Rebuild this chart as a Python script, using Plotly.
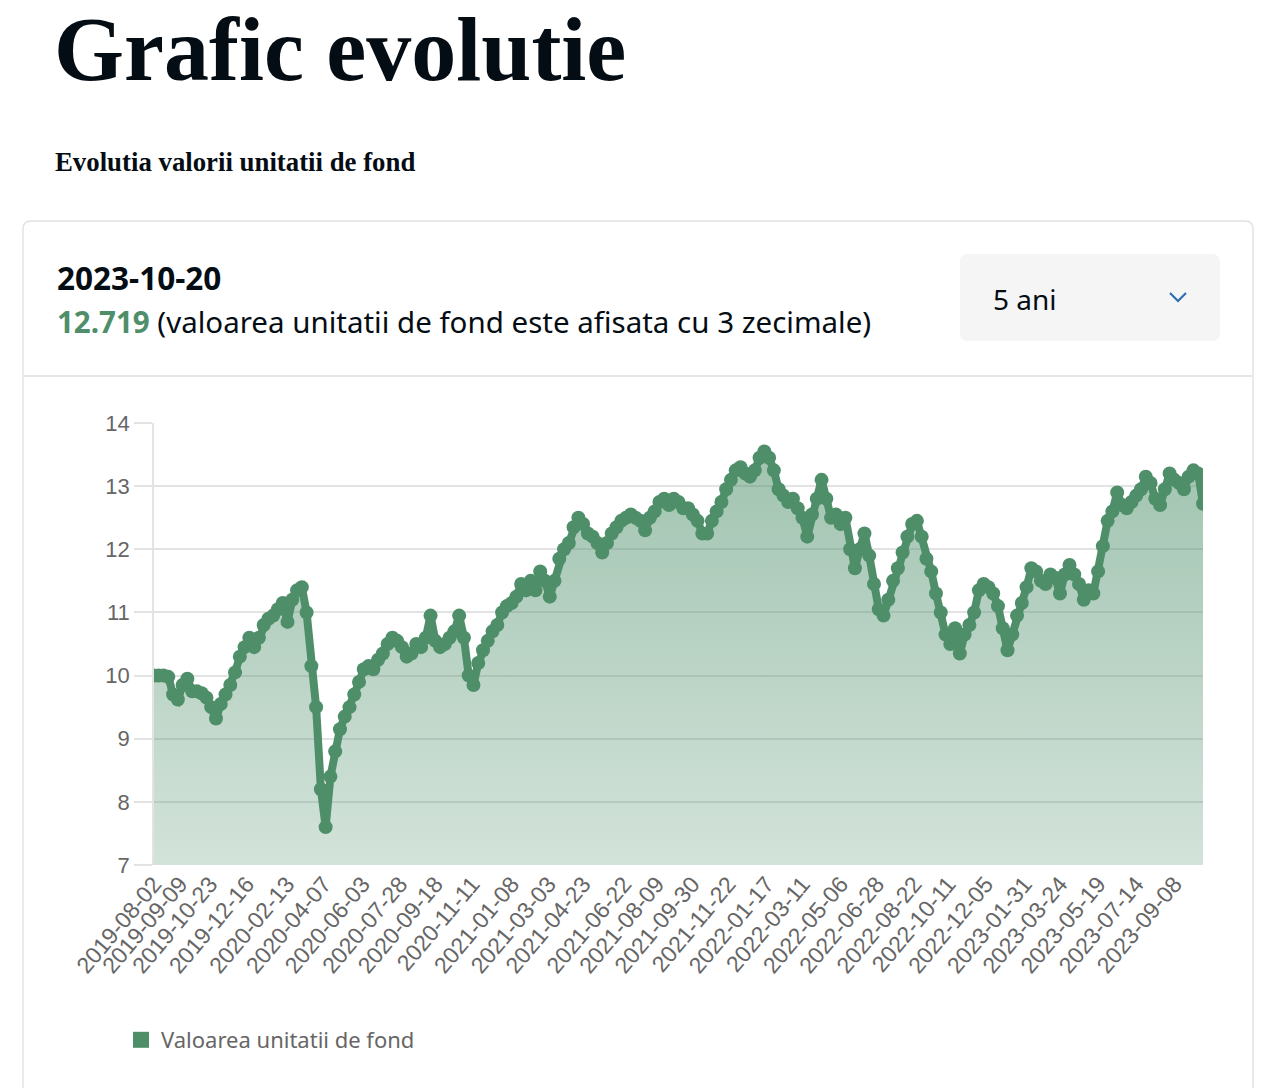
import pandas as pd
import plotly.graph_objects as go

# ---------------- data ----------------
start_date = "2019-08-02"
n_weeks = 221
dates = pd.date_range(start_date, periods=n_weeks, freq="7D")

values = [
    10.0, 10.0, 10.0, 9.98, 9.7, 9.62, 9.85, 9.95, 9.75, 9.75,
    9.72, 9.65, 9.5, 9.32, 9.55, 9.7, 9.85, 10.05, 10.3, 10.45,
    10.6, 10.45, 10.6, 10.8, 10.9, 10.95, 11.05, 11.15, 10.85, 11.2,
    11.35, 11.4, 11.0, 10.15, 9.5, 8.2, 7.6, 8.4, 8.8, 9.15,
    9.35, 9.5, 9.7, 9.9, 10.1, 10.15, 10.1, 10.25, 10.35, 10.5,
    10.6, 10.55, 10.45, 10.3, 10.35, 10.5, 10.45, 10.6, 10.95, 10.55,
    10.45, 10.5, 10.6, 10.7, 10.95, 10.6, 10.0, 9.85, 10.2, 10.4,
    10.55, 10.7, 10.8, 11.0, 11.1, 11.15, 11.25, 11.45, 11.35, 11.5,
    11.35, 11.65, 11.5, 11.25, 11.5, 11.85, 12.0, 12.1, 12.35, 12.5,
    12.4, 12.25, 12.2, 12.1, 11.95, 12.1, 12.25, 12.35, 12.45, 12.5,
    12.55, 12.5, 12.45, 12.3, 12.5, 12.6, 12.75, 12.8, 12.7, 12.8,
    12.75, 12.65, 12.65, 12.55, 12.45, 12.25, 12.25, 12.45, 12.6, 12.75,
    12.95, 13.1, 13.25, 13.3, 13.2, 13.15, 13.25, 13.45, 13.55, 13.45,
    13.25, 12.95, 12.85, 12.75, 12.8, 12.65, 12.5, 12.2, 12.55, 12.8,
    13.1, 12.8, 12.5, 12.55, 12.4, 12.5, 12.0, 11.7, 12.0, 12.25,
    11.9, 11.45, 11.05, 10.95, 11.2, 11.5, 11.7, 11.95, 12.2, 12.4,
    12.45, 12.2, 11.85, 11.65, 11.3, 11.0, 10.65, 10.5, 10.75, 10.35,
    10.65, 10.8, 11.0, 11.35, 11.45, 11.4, 11.3, 11.1, 10.75, 10.4,
    10.65, 10.95, 11.15, 11.4, 11.7, 11.65, 11.5, 11.45, 11.6, 11.55,
    11.3, 11.6, 11.75, 11.6, 11.45, 11.2, 11.35, 11.3, 11.65, 12.05,
    12.45, 12.6, 12.9, 12.7, 12.65, 12.75, 12.85, 12.95, 13.15, 13.05,
    12.8, 12.7, 12.95, 13.2, 13.1, 13.05, 12.95, 13.15, 13.25, 13.2,
    12.72,
]

tick_labels = [
    "2019-08-02", "2019-09-09", "2019-10-23", "2019-12-16", "2020-02-13",
    "2020-04-07", "2020-06-03", "2020-07-28", "2020-09-18", "2020-11-11",
    "2021-01-08", "2021-03-03", "2021-04-23", "2021-06-22", "2021-08-09",
    "2021-09-30", "2021-11-22", "2022-01-17", "2022-03-11", "2022-05-06",
    "2022-06-28", "2022-08-22", "2022-10-11", "2022-12-05", "2023-01-31",
    "2023-03-24", "2023-05-19", "2023-07-14", "2023-09-08",
]
y_ticks = [7, 8, 9, 10, 11, 12, 13, 14]

series_name = "Valoarea unitatii de fond"
last_date = "2023-10-20"
last_value = "12.719"

# ---------------- layout helpers ----------------
W, H = 1262, 1088


def px(x):
    return x / W


def py(y):
    return 1 - y / H


GREEN = "rgb(78,143,106)"
GRID = "#e3e3e3"
TICKFONT = dict(family="Liberation Sans, Arial, sans-serif", size=23, color="#666666")
UI_FONT = "Noto Sans, Open Sans, sans-serif"
SERIF = "Liberation Serif, Times New Roman, serif"


def rounded_rect(x0, y0, x1, y1, r):
    X0, X1 = px(x0), px(x1)
    Y0, Y1 = py(y0), py(y1)
    rx, ry = r / W, r / H
    return (
        f"M {X0 + rx},{Y0} L {X1 - rx},{Y0} Q {X1},{Y0} {X1},{Y0 - ry} "
        f"L {X1},{Y1 + ry} Q {X1},{Y1} {X1 - rx},{Y1} "
        f"L {X0 + rx},{Y1} Q {X0},{Y1} {X0},{Y1 + ry} "
        f"L {X0},{Y0 - ry} Q {X0},{Y0} {X0 + rx},{Y0} Z"
    )


fig = go.Figure()

fig.add_trace(
    go.Scatter(
        x=dates,
        y=values,
        mode="lines+markers",
        line=dict(color=GREEN, width=8),
        marker=dict(color=GREEN, size=14),
        fill="tozeroy",
        fillgradient=dict(
            type="vertical",
            start=7,
            stop=14,
            colorscale=[[0, "rgba(78,143,106,0.25)"], [1, "rgba(78,143,106,0.55)"]],
        ),
        showlegend=False,
        hoverinfo="skip",
        cliponaxis=True,
    )
)

# legend entry (square swatch)
fig.add_trace(
    go.Scatter(
        x=[None],
        y=[None],
        mode="markers",
        marker=dict(symbol="square", size=16, color=GREEN),
        name=series_name,
        showlegend=True,
    )
)

fig.update_layout(
    width=W,
    height=H,
    margin=dict(l=0, r=0, t=0, b=0, autoexpand=False),
    paper_bgcolor="white",
    plot_bgcolor="white",
    showlegend=True,
    legend=dict(
        x=px(121),
        y=py(1040),
        xanchor="left",
        yanchor="middle",
        font=dict(family=UI_FONT, size=22, color="#666666"),
        itemwidth=30,
        bgcolor="rgba(0,0,0,0)",
    ),
    xaxis=dict(
        domain=[px(154), px(1203)],
        type="date",
        range=[start_date, last_date],
        tickmode="array",
        tickvals=tick_labels,
        ticktext=tick_labels,
        tickangle=-50,
        tickfont=TICKFONT,
        showgrid=False,
        zeroline=False,
        showline=False,
        ticks="",
        automargin=False,
    ),
    yaxis=dict(
        domain=[py(865), py(423)],
        range=[7, 14],
        tickmode="array",
        tickvals=y_ticks,
        tickfont=dict(TICKFONT, size=22),
        showgrid=True,
        gridcolor=GRID,
        gridwidth=1.5,
        zeroline=False,
        showline=True,
        linecolor=GRID,
        linewidth=1.5,
        ticks="outside",
        ticklen=18,
        tickcolor=GRID,
        tickwidth=1.5,
        automargin=False,
    ),
)

shapes = [
    # card
    dict(type="path", xref="paper", yref="paper",
         path=rounded_rect(23, 221, 1253, 1120, 8),
         line=dict(color="#e2e2e2", width=1.5), fillcolor="rgba(0,0,0,0)", layer="below"),
    # separator
    dict(type="line", xref="paper", yref="paper",
         x0=px(24), x1=px(1252), y0=py(376), y1=py(376),
         line=dict(color="#e6e6e6", width=2)),
    # dropdown box
    dict(type="path", xref="paper", yref="paper",
         path=rounded_rect(960, 254, 1220, 341, 8),
         line=dict(width=0), fillcolor="#f5f5f5"),
    # chevron
    dict(type="path", xref="paper", yref="paper",
         path=f"M {px(1170)},{py(293)} L {px(1178)},{py(301)} L {px(1186)},{py(293)}",
         line=dict(color="#2f6db5", width=2.2)),
]
fig.update_layout(shapes=shapes)

annotations = [
    dict(text="<b>Grafic evolutie</b>", x=px(52), y=py(49), xanchor="left", yanchor="middle",
         font=dict(family=SERIF, size=90, color="#050d14")),
    dict(text="<b>Evolutia valorii unitatii de fond</b>", x=px(53), y=py(162), xanchor="left",
         yanchor="middle", font=dict(family=SERIF, size=26.8, color="#050d14")),
    dict(text=f"<b>{last_date}</b>", x=px(55), y=py(277), xanchor="left", yanchor="middle",
         font=dict(family=UI_FONT, size=31.5, color="#050d14")),
    dict(text=f"<span style='color:{GREEN}'><b>{last_value}</b></span> (valoarea unitatii de fond este afisata cu 3 zecimale)",
         x=px(55), y=py(321), xanchor="left", yanchor="middle",
         font=dict(family=UI_FONT, size=29.5, color="#050d14")),
    dict(text="5 ani", x=px(991), y=py(299), xanchor="left", yanchor="middle",
         font=dict(family=UI_FONT, size=28, color="#050d14")),
]
for a in annotations:
    a.update(xref="paper", yref="paper", showarrow=False)
fig.update_layout(annotations=annotations)

fig.write_html("out.html")
